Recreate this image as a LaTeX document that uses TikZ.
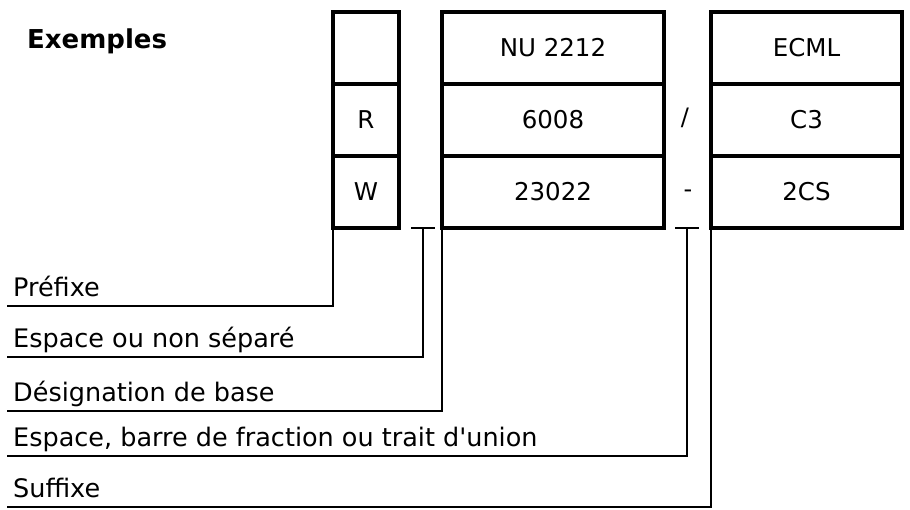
\documentclass[tikz,border=0pt]{standalone}
\usepackage{fontspec}
\setmainfont{DejaVu Sans}
\newfontfamily\plainsans{DejaVu Sans}

\begin{document}
\begin{tikzpicture}[x=1pt, y=-1pt,
  cell/.style={draw, line width=4.5pt, minimum height=72pt, inner sep=0pt,
    outer sep=0pt, font=\fontsize{24.5}{28}\selectfont},
  lead/.style={line width=2pt},
  tag/.style={anchor=south west, inner xsep=6pt, inner ysep=9pt,
    text depth=0pt, font=\plainsans\fontsize{25.5}{30}\selectfont}]
  \useasboundingbox (0,0) rectangle (910,509);

  % Title
  \node[anchor=base west, inner sep=0pt, font=\bfseries\fontsize{26}{30}\selectfont]
    (title) at (27,48) {Exemples};

  % Prefix, base and suffix columns
  \foreach \r/\y/\a/\b/\c in {1/48//NU 2212/ECML, 2/120/R/6008/C3, 3/192/W/23022/2CS}{
    \node[cell, minimum width=66pt]  (p\r) at (366,\y)   {\a};
    \node[cell, minimum width=222pt] (b\r) at (553,\y)   {\b};
    \node[cell, minimum width=191pt] (s\r) at (806.5,\y) {\c};
  }

  % Separators
  \node[font=\fontsize{24}{28}\selectfont] (slash) at (685,118) {/};
  \node[font=\fontsize{24}{28}\selectfont] (dash) at (688,194) {-};

  % Gap marks
  \coordinate (gap1) at (423,228);
  \coordinate (gap2) at (687,228);
  \draw[lead] ([xshift=-12pt]gap1) -- ([xshift=12pt]gap1);
  \draw[lead] ([xshift=-12pt]gap2) -- ([xshift=12pt]gap2);

  % Labels
  \node[tag] (lpre)  at (7,306) {Préfixe};
  \node[tag] (lgap)  at (7,357) {Espace ou non séparé};
  \node[tag] (lbase) at (7,411) {Désignation de base};
  \node[tag] (lsep)  at (7,456) {Espace, barre de fraction ou trait d'union};
  \node[tag] (lsuf)  at (7,507) {Suffixe};

  % Leader lines
  \draw[lead] (p3.south west) |- (lpre.south west);
  \draw[lead] (gap1) |- (lgap.south west);
  \draw[lead] (b3.south west) |- (lbase.south west);
  \draw[lead] (gap2) |- (lsep.south west);
  \draw[lead] (s3.south west) |- (lsuf.south west);
\end{tikzpicture}
\end{document}
